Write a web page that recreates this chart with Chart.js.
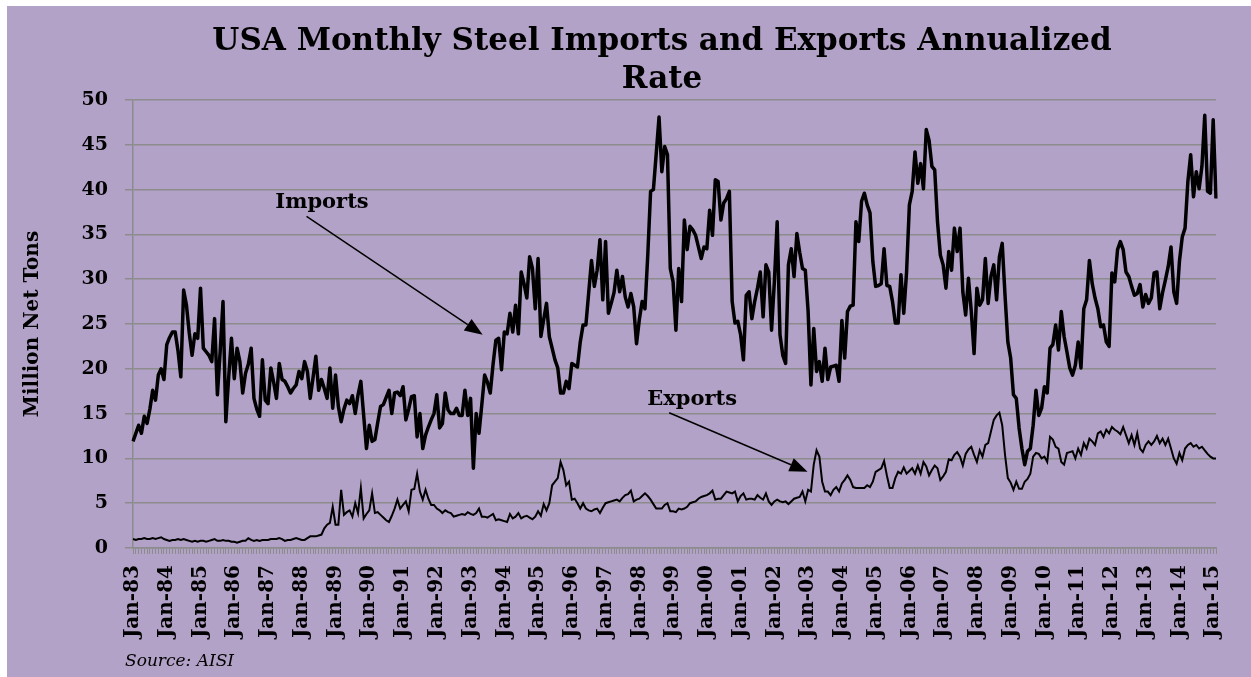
<!DOCTYPE html>
<html>
<head>
<meta charset="utf-8">
<script src="https://cdn.jsdelivr.net/npm/chart.js@4.4.1/dist/chart.umd.min.js"></script>
<style>
  body { margin: 0; background: #fff; }
  #wrap { position: absolute; left: 7px; top: 6px; width: 1244px; height: 671px; background: #b3a2c7; }
</style>
</head>
<body>
<div id="wrap"><canvas id="chart"></canvas></div>
<script>
const monthNames = ["Jan", "Feb", "Mar", "Apr", "May", "Jun", "Jul", "Aug", "Sep", "Oct", "Nov", "Dec"];
const firstYear = 1983;

// million net tons, annualized, Jan-83 .. Feb-15
const imports = [
  11.9, 12.8, 13.7, 12.8, 14.7, 13.9, 15.5, 17.6, 16.5, 19.3, 20.0, 18.8,
  22.7, 23.5, 24.1, 24.1, 22.0, 19.1, 28.8, 27.1, 24.0, 21.5, 23.9, 23.4,
  29.0, 22.3, 21.9, 21.5, 20.8, 25.6, 17.1, 22.0, 27.5, 14.1, 19.0, 23.4,
  18.9, 22.3, 20.8, 17.3, 19.5, 20.5, 22.3, 16.7, 15.5, 14.7, 21.0, 16.5,
  16.1, 20.1, 18.5, 16.7, 20.6, 18.8, 18.6, 18.0, 17.3, 17.8, 18.2, 19.7,
  18.9, 20.8, 19.7, 16.7, 19.0, 21.4, 17.6, 18.8, 17.8, 16.7, 20.1, 15.6,
  19.3, 15.8, 14.1, 15.5, 16.5, 16.1, 17.0, 15.0, 17.1, 18.6, 14.8, 11.1,
  13.7, 11.9, 12.1, 14.0, 15.8, 16.0, 16.8, 17.6, 15.0, 17.3, 17.4, 17.0,
  18.0, 14.3, 15.5, 16.9, 17.0, 12.4, 15.0, 11.1, 12.6, 13.5, 14.3, 15.0,
  17.1, 13.4, 13.9, 17.3, 15.4, 15.0, 15.0, 15.6, 14.8, 14.8, 17.6, 14.8,
  16.7, 8.9, 15.0, 12.8, 16.0, 19.3, 18.5, 17.3, 20.5, 23.2, 23.4, 19.9,
  24.1, 23.9, 26.2, 24.1, 27.1, 23.9, 30.8, 29.5, 27.9, 32.5, 31.2, 26.7,
  32.3, 23.6, 25.5, 27.3, 23.6, 22.3, 21.0, 20.1, 17.3, 17.3, 18.6, 17.8,
  20.6, 20.4, 20.2, 23.0, 24.9, 24.9, 28.5, 32.1, 29.2, 31.0, 34.4, 27.7,
  34.2, 26.2, 27.3, 28.5, 31.0, 28.6, 30.3, 28.0, 26.9, 28.4, 26.9, 22.8,
  25.5, 27.5, 26.7, 32.7, 39.8, 40.0, 44.0, 48.1, 42.0, 44.8, 43.9, 31.2,
  29.7, 24.3, 31.2, 27.5, 36.6, 33.3, 35.9, 35.5, 34.9, 33.6, 32.3, 33.6,
  33.4, 37.7, 34.9, 41.1, 40.9, 36.6, 38.5, 39.0, 39.8, 27.5, 25.1, 25.3,
  23.8, 21.0, 28.2, 28.6, 25.6, 27.5, 29.0, 30.8, 25.8, 31.6, 30.8, 24.3,
  29.7, 36.4, 23.8, 21.5, 20.6, 31.6, 33.4, 30.3, 35.1, 33.0, 31.2, 31.0,
  26.4, 18.2, 24.5, 19.7, 20.8, 18.6, 22.3, 18.8, 20.2, 20.3, 20.4, 18.6,
  25.4, 21.2, 26.4, 27.0, 27.1, 36.4, 34.2, 38.7, 39.6, 38.3, 37.4, 32.0,
  29.2, 29.3, 29.5, 33.4, 29.3, 29.2, 27.5, 25.1, 25.1, 30.5, 26.2, 30.8,
  38.3, 39.8, 44.2, 40.7, 42.9, 40.1, 46.7, 45.5, 42.6, 42.2, 36.4, 32.7,
  31.6, 29.0, 33.1, 31.0, 35.7, 33.1, 35.7, 28.6, 26.0, 30.1, 26.4, 21.7,
  29.0, 27.1, 27.7, 32.3, 27.3, 30.3, 31.6, 27.7, 32.5, 34.0, 28.2, 23.0,
  21.2, 17.1, 16.7, 13.4, 11.1, 9.3, 10.8, 11.1, 13.7, 17.6, 14.8, 15.6,
  18.0, 17.3, 22.3, 22.7, 24.9, 22.1, 26.4, 23.6, 21.9, 20.1, 19.3, 20.4,
  23.0, 20.1, 26.7, 27.7, 32.1, 29.5, 27.9, 26.7, 24.7, 24.9, 23.0, 22.5,
  30.7, 29.7, 33.3, 34.2, 33.3, 30.8, 30.3, 29.2, 28.2, 28.4, 29.4, 26.9,
  28.3, 27.3, 27.9, 30.7, 30.8, 26.7, 28.5, 29.9, 31.4, 33.6, 28.6, 27.3,
  32.0, 34.7, 35.7, 40.9, 43.9, 39.2, 42.0, 40.1, 42.6, 48.3, 39.8, 39.6,
  47.8, 39.0
];

const exports = [
  1.0, 0.9, 1.0, 1.0, 1.1, 1.0, 1.0, 1.1, 1.0, 1.1, 1.2, 1.0,
  0.9, 0.8, 0.9, 0.9, 1.0, 0.9, 1.0, 0.9, 0.8, 0.7, 0.8, 0.7,
  0.8, 0.8, 0.7, 0.8, 0.9, 1.0, 0.8, 0.8, 0.9, 0.8, 0.8, 0.7,
  0.7, 0.6, 0.7, 0.8, 0.8, 1.1, 0.9, 0.8, 0.9, 0.8, 0.9, 0.9,
  0.9, 1.0, 1.0, 1.0, 1.1, 1.0, 0.8, 0.9, 0.9, 1.0, 1.1, 1.0,
  0.9, 0.9, 1.1, 1.3, 1.3, 1.3, 1.4, 1.5, 2.2, 2.6, 2.8, 4.6,
  2.6, 2.6, 6.5, 3.7, 4.0, 4.2, 3.5, 5.0, 3.9, 6.7, 3.3, 3.8,
  4.2, 6.1, 3.9, 4.0, 3.7, 3.4, 3.1, 2.9, 3.6, 4.4, 5.4, 4.4,
  4.8, 5.2, 4.1, 6.5, 6.6, 8.3, 6.3, 5.4, 6.5, 5.5, 4.8, 4.8,
  4.4, 4.2, 3.9, 4.2, 4.0, 3.9, 3.5, 3.6, 3.7, 3.8, 3.7, 4.0,
  3.8, 3.7, 3.9, 4.4, 3.5, 3.5, 3.4, 3.6, 3.8, 3.1, 3.2, 3.1,
  3.0, 2.9, 3.8, 3.3, 3.5, 3.9, 3.3, 3.5, 3.6, 3.4, 3.2, 3.5,
  4.1, 3.6, 4.9, 4.2, 5.0, 7.0, 7.4, 7.8, 9.6, 8.7, 7.0, 7.4,
  5.4, 5.5, 5.0, 4.4, 5.0, 4.4, 4.2, 4.1, 4.3, 4.4, 3.9, 4.5,
  5.0, 5.1, 5.2, 5.3, 5.4, 5.2, 5.6, 5.9, 6.0, 6.4, 5.2, 5.4,
  5.5, 5.8, 6.1, 5.8, 5.4, 4.9, 4.4, 4.4, 4.4, 4.8, 5.0, 4.1,
  4.1, 4.0, 4.4, 4.3, 4.4, 4.6, 5.0, 5.1, 5.2, 5.5, 5.7, 5.8,
  5.9, 6.1, 6.4, 5.4, 5.5, 5.5, 5.9, 6.3, 6.2, 6.1, 6.3, 5.2,
  5.8, 6.1, 5.4, 5.5, 5.5, 5.4, 5.9, 5.6, 5.4, 6.1, 5.2, 4.8,
  5.2, 5.4, 5.2, 5.1, 5.2, 4.9, 5.2, 5.5, 5.6, 5.7, 6.3, 5.2,
  6.5, 6.3, 9.3, 10.9, 10.2, 7.4, 6.3, 6.3, 5.9, 6.5, 6.8, 6.3,
  7.2, 7.6, 8.1, 7.6, 6.8, 6.7, 6.7, 6.7, 6.7, 7.0, 6.8, 7.4,
  8.5, 8.7, 8.9, 9.7, 8.1, 6.7, 6.7, 7.8, 8.5, 8.3, 9.0, 8.3,
  8.6, 8.9, 8.3, 9.2, 8.3, 9.6, 9.1, 8.1, 8.7, 9.2, 8.9, 7.6,
  8.0, 8.5, 9.9, 9.8, 10.4, 10.7, 10.2, 9.2, 10.5, 11.0, 11.3, 10.4,
  9.6, 10.9, 10.2, 11.5, 11.7, 13.0, 14.3, 14.8, 15.1, 13.7, 10.4, 7.8,
  7.3, 6.5, 7.4, 6.6, 6.6, 7.4, 7.7, 8.3, 10.2, 10.6, 10.5, 10.0,
  10.2, 9.6, 12.4, 12.1, 11.3, 11.1, 9.6, 9.3, 10.6, 10.7, 10.8, 10.0,
  11.1, 10.4, 11.7, 11.1, 12.2, 11.9, 11.5, 12.8, 13.0, 12.4, 13.2, 12.8,
  13.5, 13.2, 13.0, 12.7, 13.5, 12.6, 11.7, 12.6, 11.5, 12.8, 11.1, 10.7,
  11.5, 11.9, 11.5, 11.9, 12.5, 11.7, 12.2, 11.5, 12.2, 11.1, 10.0, 9.4,
  10.6, 9.8, 11.1, 11.5, 11.7, 11.3, 11.5, 11.1, 11.3, 10.9, 10.5, 10.2,
  10.0, 10.0
];

// month labels "Jan-83" ...
const labels = imports.map((v, i) => {
  const year = firstYear + Math.floor(i / 12);
  return monthNames[i % 12] + "-" + String(year).slice(2);
});

const titleLines = ["USA Monthly Steel Imports and Exports Annualized", "Rate"];

// text notes with arrows, placed in data units (month index, value)
const notes = [
  { text: "Imports", at: [50.6, 38.6], from: [61.7, 37.0], to: [124.3, 23.8] },
  { text: "Exports", at: [182.8, 16.6], from: [190.6, 15.1], to: [239.8, 8.5] },
];

const serif = "'DejaVu Serif', serif";
const gridGray = "#8c8c8c";

const notesPlugin = {
  id: "notes",
  afterDatasetsDraw: function (chart) {
    const { ctx, scales } = chart;
    ctx.save();
    ctx.fillStyle = "#000";
    ctx.strokeStyle = "#000";

    // title, sitting a little right of the canvas middle like the original
    ctx.font = "bold 31px " + serif;
    ctx.textAlign = "center";
    ctx.textBaseline = "middle";
    titleLines.forEach((line, i) => {
      ctx.fillText(line, 655, 36 + i * 38);
    });

    ctx.textAlign = "left";
    ctx.lineWidth = 1.5;
    ctx.font = "bold 21px " + serif;
    notes.forEach((n) => {
      ctx.fillText(n.text, scales.x.getPixelForValue(n.at[0]), scales.y.getPixelForValue(n.at[1]));
      const x1 = scales.x.getPixelForValue(n.from[0]);
      const y1 = scales.y.getPixelForValue(n.from[1]);
      const x2 = scales.x.getPixelForValue(n.to[0]);
      const y2 = scales.y.getPixelForValue(n.to[1]);
      const ang = Math.atan2(y2 - y1, x2 - x1);
      const len = 18;
      const bx = x2 - len * Math.cos(ang);
      const by = y2 - len * Math.sin(ang);
      ctx.beginPath();
      ctx.moveTo(x1, y1);
      ctx.lineTo(bx, by);
      ctx.stroke();
      ctx.beginPath();
      ctx.moveTo(x2, y2);
      ctx.lineTo(bx + 7 * Math.sin(ang), by - 7 * Math.cos(ang));
      ctx.lineTo(bx - 7 * Math.sin(ang), by + 7 * Math.cos(ang));
      ctx.closePath();
      ctx.fill();
    });

    // source line under the axis
    ctx.font = "italic 17px " + serif;
    ctx.textBaseline = "alphabetic";
    ctx.fillText("Source: AISI", chart.chartArea.left - 8, chart.height - 11);
    ctx.restore();
  },
};

new Chart(document.getElementById("chart"), {
  type: "line",
  data: {
    labels: labels,
    datasets: [
      {
        label: "Exports",
        data: exports,
        borderColor: "#000",
        borderWidth: 2,
        pointRadius: 0,
        tension: 0,
      },
      {
        label: "Imports",
        data: imports,
        borderColor: "#000",
        borderWidth: 3.5,
        pointRadius: 0,
        tension: 0,
        borderJoinStyle: "round",
      },
    ],
  },
  options: {
    responsive: true,
    maintainAspectRatio: false,
    animation: false,
    layout: { padding: { left: 0, right: 33, top: 94, bottom: 0 } },
    plugins: {
      legend: { display: false },
      tooltip: { enabled: false },
      title: { display: false },
    },
    scales: {
      x: {
        offset: false,
        afterFit: function (scale) { scale.height = 129; },
        grid: { display: true, drawOnChartArea: false, drawTicks: true, tickLength: 6, color: gridGray, lineWidth: 1 },
        border: { display: true, color: gridGray, width: 1.5 },
        ticks: {
          autoSkip: false,
          maxRotation: 90,
          minRotation: 90,
          padding: 11,
          color: "#000",
          font: { family: serif, size: 20, weight: "bold" },
          callback: function (value, index) {
            return index % 12 === 0 ? labels[index] : "";
          },
        },
      },
      y: {
        min: 0,
        max: 50,
        afterFit: function (scale) { scale.width = 126; },
        grid: { color: gridGray, lineWidth: 1.5, tickLength: 8 },
        border: { display: true, color: gridGray, width: 1.5 },
        ticks: {
          stepSize: 5,
          padding: 17,
          color: "#000",
          font: { family: serif, size: 19, weight: "bold" },
        },
        title: {
          display: true,
          text: "Million Net Tons",
          color: "#000",
          font: { family: serif, size: 20, weight: "bold" },
          padding: { top: 14, bottom: 0 },
        },
      },
    },
  },
  plugins: [notesPlugin],
});
</script>
</body>
</html>
